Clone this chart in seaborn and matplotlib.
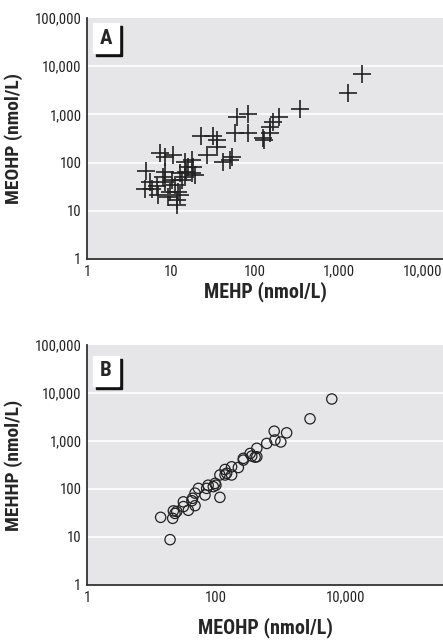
import numpy as np
import seaborn as sns
import matplotlib.pyplot as plt
from matplotlib import font_manager as fm
from matplotlib.patches import Rectangle
from matplotlib.ticker import FuncFormatter

# Panel A: MEHP vs MEOHP (nmol/L)
mehp_a = [1900, 1290, 345, 62, 83, 195, 165, 150, 58, 83, 150, 125, 130,
          23, 32, 35, 35, 27, 53, 50, 42, 7.4, 10.6, 8.5, 5.1, 14.7, 17.6,
          16, 18.4, 15.3, 17.6, 19.3, 14.7, 8.5, 8.1, 8.5, 5.6, 5.9, 4.9,
          6.8, 7.1, 10.2, 11.2, 9.7, 9.3, 12.2, 12.8, 11.7, 11.7, 13.4, 12.8]
meohp_a = [6900, 2800, 1270, 870, 1000, 870, 710, 550, 420, 420, 420, 330, 295,
           355, 355, 300, 215, 143, 133, 113, 105, 156, 143, 133, 68, 105, 113,
           82, 82, 65, 60, 55, 51, 65, 51, 40, 40, 29, 29,
           32, 21, 44, 34, 25, 19.5, 25, 21, 16.7, 13.2, 44, 60]

# Panel B: MEOHP vs MEHHP (nmol/L)
meohp_b = [6150, 2830, 790, 1230, 810, 1000, 605, 425, 335, 355, 425, 400,
           263, 263, 220, 173, 137, 145, 173, 137, 114, 96, 90, 75, 99, 71,
           114, 67, 53, 47, 43, 42, 47, 31, 31, 37, 24.5, 21.7, 23, 21.2,
           13.8, 19.3]
mehhp_b = [7500, 2900, 1600, 1480, 1050, 955, 890, 705, 550, 485, 470, 460,
           435, 400, 280, 290, 255, 213, 196, 196, 196, 131, 112, 120, 120, 103,
           67, 75, 103, 82, 64, 57, 45, 54, 43, 36, 34, 35, 31, 24.5,
           25.7, 8.8]

sns.set_style("white")

# the reference uses a condensed face; take whichever narrow family exists
fonts = fm.fontManager.ttflist
names = {f.name for f in fonts}
stretch = 'normal'
family = 'Liberation Sans'
for cand in ['Liberation Sans Narrow', 'Roboto Condensed', 'Open Sans Condensed',
             'DejaVu Sans Condensed', 'Noto Sans Condensed']:
    if cand in names:
        family = cand
        break
else:
    cond = [f for f in fonts if f.name == 'DejaVu Sans' and str(f.stretch) in
            ('condensed', 'semi-condensed', '87.5', '75')]
    if cond:
        family, stretch = 'DejaVu Sans', 'condensed'
narrow = family != 'Liberation Sans' or stretch == 'condensed'
plt.rcParams['font.family'] = [family, 'DejaVu Sans']
plt.rcParams['font.stretch'] = stretch
k = 1.0 if narrow else 0.85

W, H = 443, 640
fig = plt.figure(figsize=(W / 100, H / 100), dpi=100)
bg = '#e6e6e8'


def comma(v, pos):
    return f"{int(round(v)):,}"


def setup(ax, xticks, xmax, xlabel, ylabel, xpad):
    ax.set_xscale('log')
    ax.set_yscale('log')
    ax.set_xlim(1, xmax)
    ax.set_ylim(1, 100000)
    ax.set_facecolor(bg)
    ax.set_xticks(xticks)
    ax.set_yticks([1, 10, 100, 1000, 10000, 100000])
    ax.minorticks_off()
    ax.xaxis.set_major_formatter(FuncFormatter(comma))
    ax.yaxis.set_major_formatter(FuncFormatter(comma))
    ax.tick_params(length=0, labelsize=10.5 * k, pad=4, colors='#222222')
    ax.grid(False)
    for y in [10, 100, 1000, 10000]:
        ax.axhline(y, color='white', lw=1.2, zorder=0.5)
    for s in ['top', 'right']:
        ax.spines[s].set_visible(False)
    for s in ['left', 'bottom']:
        ax.spines[s].set_color('#333333')
        ax.spines[s].set_linewidth(1.3)
    ax.set_xlabel(xlabel, fontsize=14.5 * k, fontweight='bold', labelpad=xpad)
    ax.set_ylabel(ylabel, fontsize=14 * k, fontweight='bold', labelpad=8)


def panel_label(letter, x0, y0):
    # white box with black drop shadow, pixel coordinates from top-left
    w, h, off = 26, 30, 3
    fig.patches.append(Rectangle(((x0 + off) / W, 1 - (y0 + h + off) / H), w / W, h / H,
                                 transform=fig.transFigure, color='#111111', zorder=5))
    fig.patches.append(Rectangle((x0 / W, 1 - (y0 + h) / H), w / W, h / H,
                                 transform=fig.transFigure, color='white', zorder=6))
    fig.text((x0 + w / 2) / W, 1 - (y0 + h / 2) / H, letter, ha='center', va='center',
             fontsize=15, fontweight='bold', zorder=7)


left = 87 / W
ax_a = fig.add_axes([left, 1 - 259 / H, 1 - left, 241 / H])
ax_b = fig.add_axes([left, 1 - 585 / H, 1 - left, 240 / H])

sns.scatterplot(x=mehp_a, y=meohp_a, ax=ax_a, marker='+', s=150, color='#222222',
                linewidth=1.2, zorder=3)
sns.scatterplot(x=meohp_b, y=mehhp_b, ax=ax_b, marker='o', s=55, facecolor='none',
                edgecolor='#222222', linewidth=0.9, zorder=3)

setup(ax_a, [1, 10, 100, 1000, 10000], 10 ** 4.24, 'MEHP (nmol/L)', 'MEOHP (nmol/L)', 2)
setup(ax_b, [1, 100, 10000], 10 ** 5.51, 'MEOHP (nmol/L)', 'MEHHP (nmol/L)', 9)

panel_label('A', 93, 23)
panel_label('B', 93, 356)

fig.savefig('out.png', dpi=100)
